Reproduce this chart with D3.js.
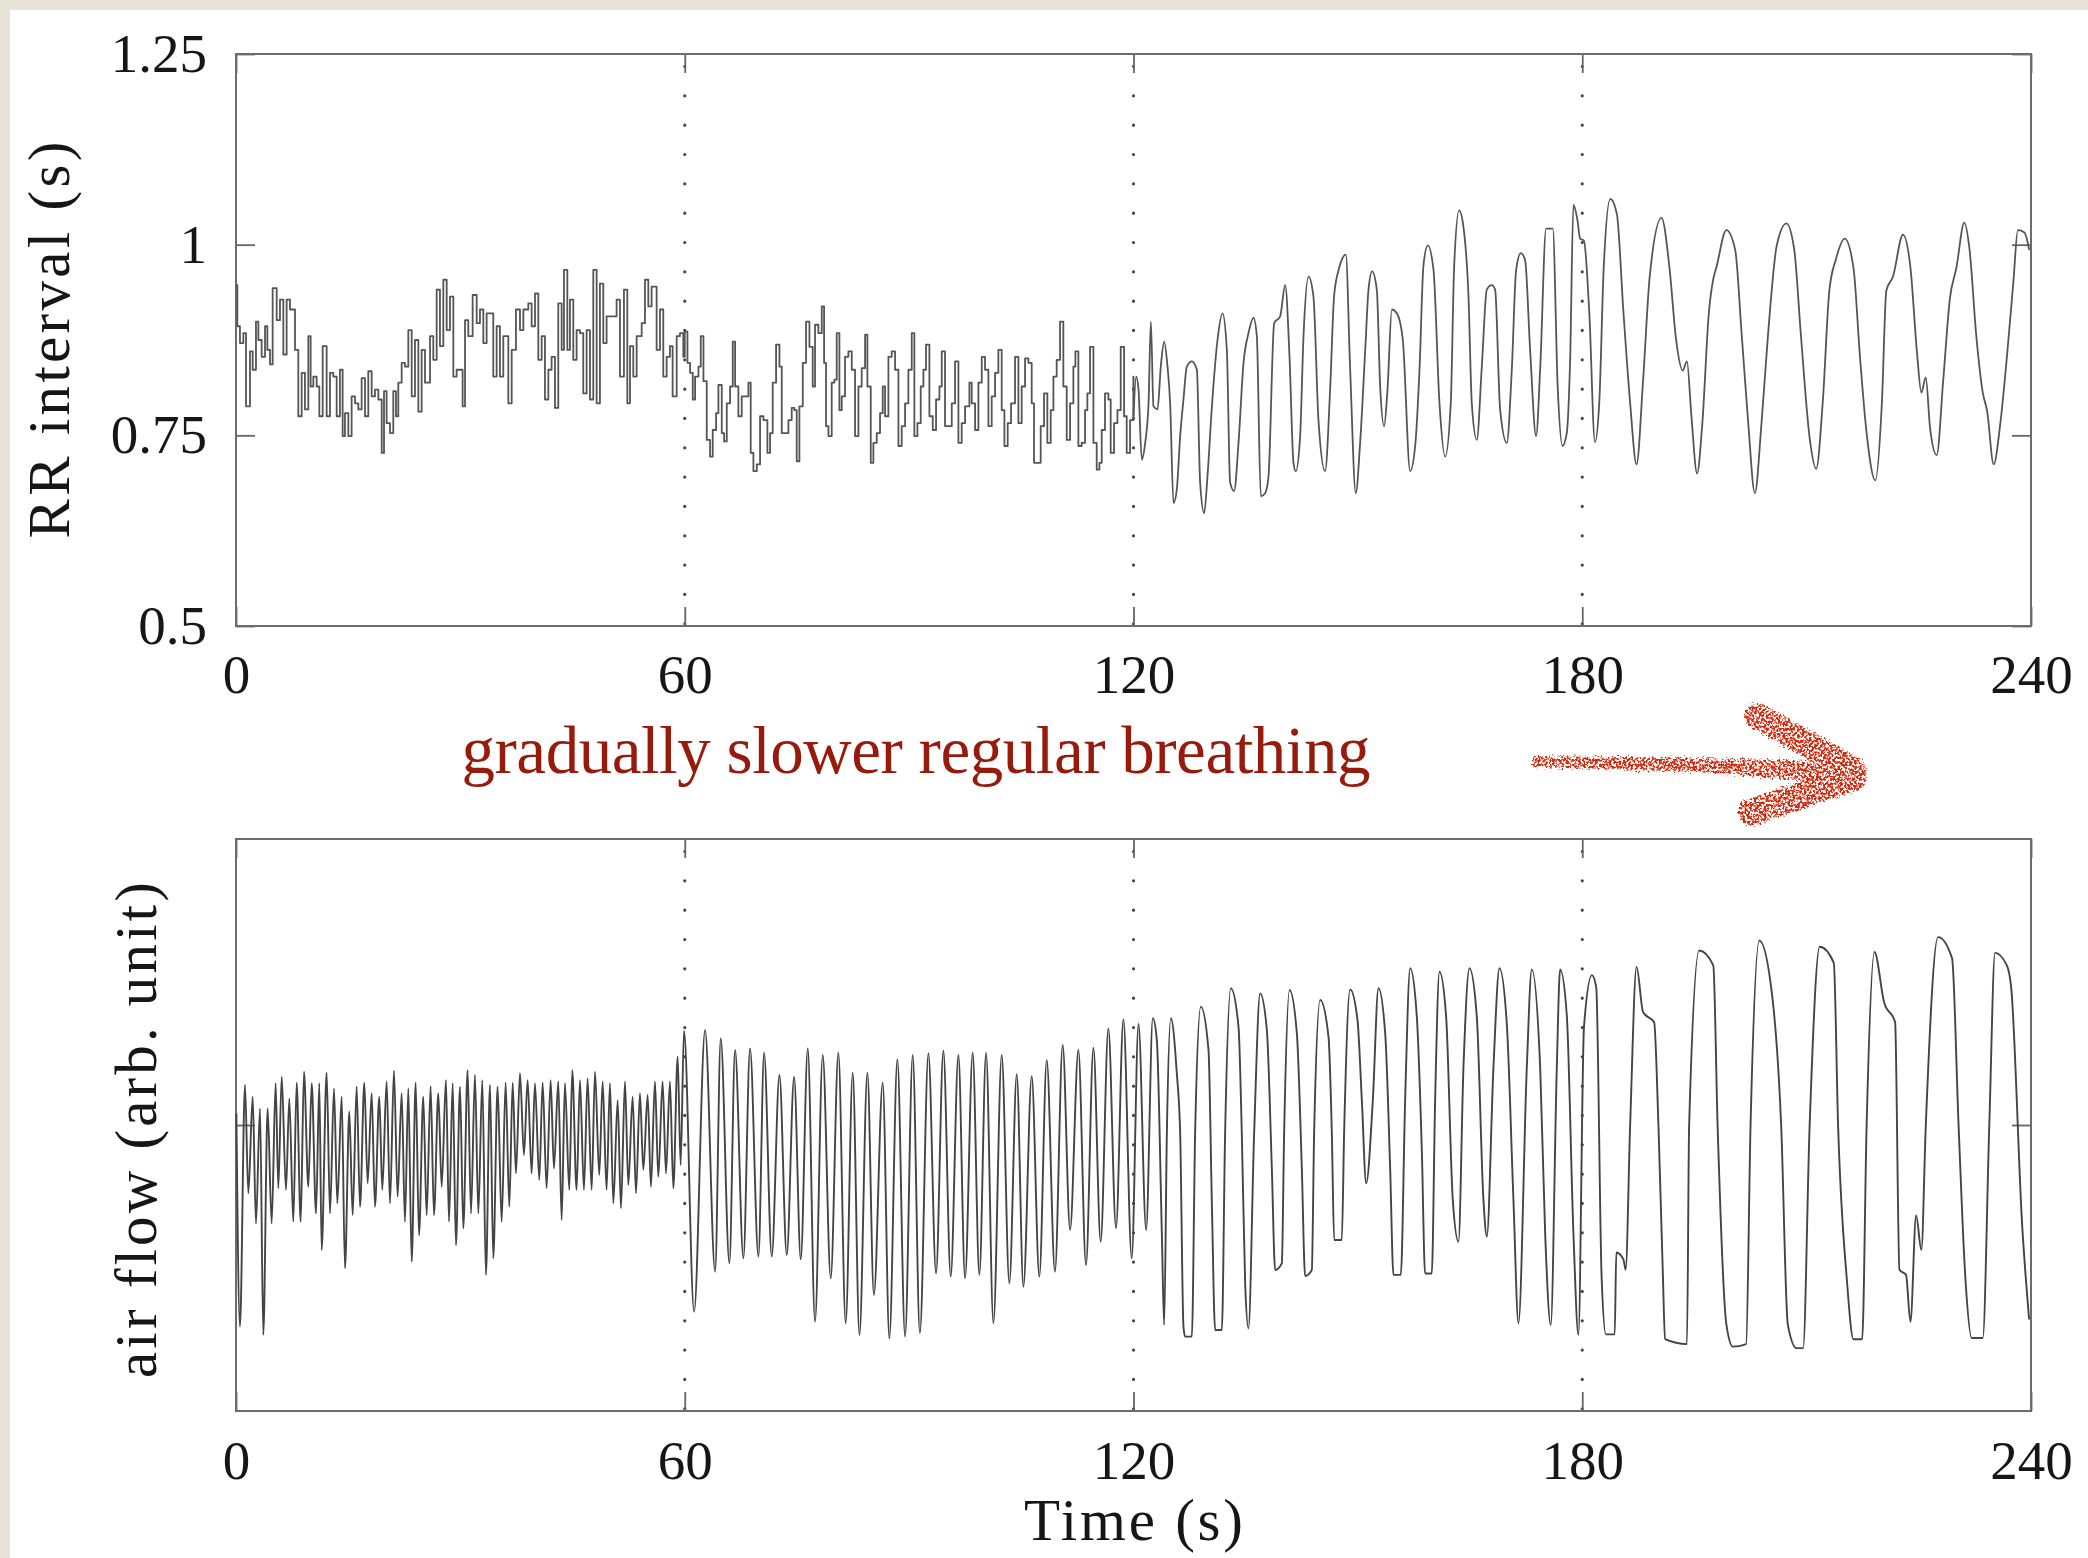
<!DOCTYPE html>
<html>
<head>
<meta charset="utf-8">
<script src="https://cdn.jsdelivr.net/npm/d3@7"></script>
<style>
  html, body { margin: 0; padding: 0; background: #e7e3d7; }
  svg { display: block; }
</style>
</head>
<body>
<svg id="chart"></svg>
<script>
// ---- data ----
// RR interval (s) against time (s), one [t, v] pair per step
const rr0to60 = [[0.0,0.947],[0.18,0.893],[0.53,0.871],[0.98,0.884],[1.34,0.788],[1.69,0.788],[1.87,0.860],[2.23,0.836],[2.67,0.899],[2.99,0.875],[3.43,0.853],[3.88,0.893],[4.19,0.862],[4.55,0.843],[4.90,0.943],[5.44,0.901],[5.88,0.928],[6.33,0.856],[6.77,0.928],[7.22,0.915],[7.89,0.862],[8.33,0.775],[8.78,0.832],[9.22,0.784],[9.67,0.880],[9.98,0.814],[10.34,0.827],[10.78,0.814],[11.14,0.775],[11.59,0.867],[12.12,0.775],[12.57,0.832],[13.01,0.827],[13.46,0.775],[13.90,0.836],[14.26,0.749],[14.57,0.779],[15.02,0.749],[15.46,0.801],[15.91,0.792],[16.36,0.784],[16.80,0.825],[17.25,0.775],[17.69,0.834],[18.14,0.801],[18.58,0.810],[19.03,0.797],[19.48,0.727],[19.79,0.808],[20.14,0.766],[20.59,0.753],[21.03,0.808],[21.39,0.775],[21.70,0.819],[22.15,0.845],[22.59,0.840],[23.04,0.888],[23.49,0.801],[23.93,0.875],[24.38,0.781],[24.82,0.862],[25.27,0.819],[25.94,0.880],[26.38,0.849],[26.83,0.941],[27.27,0.867],[27.72,0.954],[28.17,0.888],[28.61,0.932],[29.06,0.827],[29.50,0.836],[30.30,0.788],[30.62,0.901],[31.06,0.880],[31.64,0.934],[32.18,0.897],[32.62,0.915],[33.07,0.871],[33.51,0.910],[33.96,0.910],[34.40,0.827],[34.85,0.893],[35.29,0.827],[35.74,0.880],[36.41,0.792],[36.86,0.862],[37.43,0.915],[37.97,0.888],[38.42,0.915],[39.08,0.923],[39.53,0.893],[39.98,0.936],[40.42,0.849],[40.87,0.880],[41.31,0.797],[41.76,0.836],[42.20,0.853],[42.65,0.786],[43.09,0.923],[43.54,0.862],[43.85,0.967],[44.30,0.862],[44.65,0.928],[45.10,0.849],[45.54,0.888],[45.99,0.884],[46.43,0.805],[46.88,0.888],[47.33,0.797],[47.77,0.967],[48.22,0.792],[48.66,0.949],[49.11,0.871],[49.55,0.906],[50.22,0.906],[50.89,0.928],[51.34,0.827],[51.87,0.941],[52.32,0.792],[52.68,0.867],[53.12,0.827],[53.57,0.880],[54.24,0.897],[54.68,0.954],[55.13,0.919],[55.57,0.945],[56.24,0.862],[56.69,0.915],[57.13,0.827],[57.58,0.853],[58.02,0.867],[58.38,0.801],[58.92,0.880],[59.36,0.884],[59.81,0.853]]

const rr60to120 = [[60.00,0.886],[60.36,0.845],[60.71,0.832],[61.07,0.797],[61.38,0.827],[61.83,0.840],[62.14,0.880],[62.50,0.821],[62.94,0.744],[63.39,0.722],[63.74,0.757],[64.19,0.779],[64.50,0.816],[64.95,0.753],[65.26,0.742],[65.62,0.792],[66.06,0.814],[66.42,0.873],[66.73,0.814],[67.17,0.775],[67.62,0.801],[68.07,0.801],[68.51,0.819],[68.82,0.727],[69.18,0.703],[69.63,0.712],[70.07,0.775],[70.52,0.770],[71.05,0.727],[71.41,0.753],[71.76,0.819],[72.21,0.869],[72.66,0.840],[72.97,0.753],[73.41,0.753],[73.86,0.770],[74.30,0.786],[74.66,0.783],[74.97,0.716],[75.33,0.788],[75.78,0.845],[76.22,0.899],[76.67,0.866],[77.11,0.814],[77.42,0.895],[77.87,0.884],[78.32,0.919],[78.63,0.845],[78.89,0.762],[79.21,0.749],[79.65,0.819],[80.01,0.823],[80.32,0.884],[80.68,0.783],[80.99,0.801],[81.43,0.853],[81.88,0.860],[82.33,0.836],[82.77,0.749],[83.22,0.814],[83.66,0.838],[84.11,0.882],[84.42,0.814],[84.87,0.714],[85.22,0.740],[85.67,0.753],[86.11,0.779],[86.47,0.814],[86.78,0.775],[87.23,0.853],[87.67,0.860],[88.12,0.836],[88.57,0.736],[89.01,0.762],[89.46,0.792],[89.90,0.836],[90.35,0.884],[90.70,0.749],[91.11,0.766],[91.55,0.814],[91.91,0.836],[92.26,0.869],[92.71,0.775],[93.16,0.757],[93.60,0.797],[94.05,0.814],[94.36,0.860],[94.80,0.762],[95.25,0.762],[95.70,0.792],[96.14,0.847],[96.59,0.740],[97.03,0.766],[97.48,0.788],[98.06,0.819],[98.37,0.792],[98.82,0.757],[99.26,0.819],[99.71,0.853],[100.15,0.836],[100.60,0.762],[101.04,0.801],[101.49,0.832],[101.93,0.862],[102.38,0.783],[102.74,0.736],[103.18,0.766],[103.63,0.792],[104.16,0.853],[104.61,0.766],[105.05,0.814],[105.50,0.851],[105.95,0.845],[106.39,0.792],[106.70,0.714],[107.15,0.714],[107.59,0.762],[108.04,0.805],[108.48,0.740],[108.93,0.783],[109.29,0.827],[109.73,0.849],[110.18,0.899],[110.62,0.814],[111.07,0.744],[111.52,0.792],[111.96,0.840],[112.23,0.860],[112.63,0.736],[113.07,0.740],[113.52,0.783],[113.83,0.805],[114.19,0.866],[114.64,0.740],[115.08,0.705],[115.44,0.714],[115.75,0.757],[116.19,0.805],[116.64,0.797],[116.95,0.727],[117.40,0.766],[117.85,0.783],[118.29,0.866],[118.74,0.775],[119.09,0.727],[119.54,0.770],[119.98,0.827]]

const rr120to180 = [[120.00,0.775],[120.36,0.827],[120.67,0.810],[121.11,0.718],[121.56,0.740],[122.01,0.792],[122.32,0.899],[122.67,0.788],[123.21,0.784],[123.65,0.840],[124.10,0.873],[124.55,0.840],[124.90,0.792],[125.35,0.661],[125.79,0.679],[126.24,0.749],[126.68,0.797],[127.13,0.840],[127.80,0.847],[128.47,0.836],[128.91,0.688],[129.45,0.648],[129.89,0.696],[130.47,0.786],[131.23,0.875],[131.90,0.910],[132.48,0.862],[132.92,0.688],[133.46,0.677],[134.04,0.740],[134.71,0.845],[135.37,0.884],[136.04,0.904],[136.49,0.880],[137.02,0.670],[137.60,0.674],[138.05,0.696],[138.81,0.897],[139.61,0.906],[140.28,0.947],[140.86,0.853],[141.39,0.714],[141.70,0.703],[142.28,0.749],[142.73,0.880],[143.40,0.958],[144.06,0.932],[144.73,0.770],[145.62,0.703],[146.29,0.810],[146.83,0.934],[147.54,0.971],[148.39,0.987],[148.97,0.836],[149.72,0.674],[150.30,0.740],[151.02,0.869],[151.42,0.941],[151.91,0.965],[152.53,0.941],[152.98,0.814],[153.51,0.762],[153.96,0.810],[154.54,0.915],[155.21,0.910],[156.01,0.875],[156.99,0.703],[157.66,0.736],[158.24,0.836],[158.77,0.973],[159.35,0.999],[160.11,0.967],[160.91,0.792],[161.67,0.722],[162.42,0.792],[162.87,0.971],[163.54,1.045],[164.12,1.023],[164.79,0.932],[165.23,0.792],[165.90,0.744],[166.57,0.840],[167.24,0.941],[167.91,0.947],[168.35,0.941],[169.02,0.784],[169.91,0.740],[170.58,0.836],[171.16,0.967],[171.78,0.989],[172.36,0.980],[173.03,0.862],[173.83,0.749],[174.37,0.836],[175.17,1.021],[176.06,1.021],[176.73,0.810],[177.35,0.736],[177.93,0.753],[178.38,0.849],[178.82,1.052],[179.36,1.032],[179.71,1.008]]

const rr180to240 = [[180.23,1.005],[180.94,0.911],[181.70,0.741],[182.28,0.794],[182.87,0.970],[183.75,1.060],[184.63,1.040],[185.51,0.911],[186.39,0.794],[187.26,0.712],[188.14,0.823],[189.02,0.958],[190.60,1.035],[191.66,0.970],[192.54,0.876],[193.42,0.835],[194.00,0.847],[194.59,0.776],[195.35,0.700],[196.05,0.765],[196.93,0.911],[197.52,0.955],[197.93,0.970],[199.27,1.019],[200.45,0.993],[201.32,0.882],[202.20,0.765],[203.08,0.674],[203.96,0.765],[204.84,0.882],[206.01,0.999],[207.30,1.028],[208.35,0.993],[209.23,0.882],[210.40,0.747],[211.28,0.706],[212.16,0.794],[213.04,0.940],[213.92,0.981],[215.09,1.008],[216.26,0.970],[217.14,0.852],[218.02,0.753],[219.19,0.691],[220.07,0.794],[220.66,0.940],[221.54,0.958],[222.88,1.013],[223.88,0.970],[224.76,0.858],[225.34,0.806],[225.93,0.826],[226.51,0.759],[227.39,0.724],[228.27,0.823],[229.15,0.929],[230.03,0.970],[231.08,1.029],[231.79,0.993],[232.67,0.882],[233.55,0.806],[234.13,0.782],[235.01,0.712],[235.89,0.765],[236.77,0.852],[237.65,0.952],[238.24,1.019],[239.12,1.016],[239.77,0.993]]

// air flow (arbitrary unit), [t, v] at turning points and shoulders
const flow0to60 = [[0.05,0.04],[0.53,-0.705],[1.20,0.140],[1.65,-0.239],[2.23,0.099],[2.67,-0.344],[3.21,0.058],[3.65,-0.734],[4.23,0.058],[4.77,-0.344],[5.30,0.146],[5.66,-0.221],[6.11,0.169],[6.68,-0.227],[7.13,0.093],[7.66,-0.338],[8.11,0.148],[8.65,-0.338],[9.09,0.186],[9.67,-0.216],[10.12,0.146],[10.70,-0.309],[11.14,0.146],[11.45,-0.437],[12.12,0.183],[12.57,-0.309],[13.10,0.128],[13.55,-0.274],[14.13,0.099],[14.57,-0.501],[15.15,0.047],[15.60,-0.315],[16.13,0.134],[16.58,-0.286],[17.16,0.148],[17.60,-0.204],[18.14,0.111],[18.58,-0.286],[19.16,0.099],[19.56,-0.227],[20.14,0.152],[20.59,-0.274],[21.12,0.190],[21.61,-0.251],[22.15,0.111],[22.59,-0.338],[23.04,0.128],[23.49,-0.478],[24.02,0.148],[24.47,-0.385],[25.04,0.099],[25.49,-0.315],[26.02,0.136],[26.47,-0.315],[27.05,0.111],[27.50,-0.216],[28.07,0.157],[28.48,-0.338],[28.97,0.146],[29.41,-0.420],[29.95,0.134],[30.39,-0.361],[30.97,0.192],[31.42,-0.309],[31.95,0.175],[32.40,-0.309],[32.93,0.157],[33.42,-0.524],[33.96,0.140],[34.40,-0.466],[34.98,0.134],[35.52,-0.338],[36.05,0.148],[36.54,-0.286],[36.99,0.148],[37.43,-0.169],[37.97,0.181],[38.50,-0.105],[38.99,0.157],[39.53,-0.169],[39.97,0.146],[40.55,-0.192],[41.00,0.148],[41.53,-0.221],[42.07,0.157],[42.51,-0.152],[43.09,0.152],[43.54,-0.332],[43.98,0.146],[44.56,-0.227],[44.96,0.192],[45.54,-0.227],[45.99,0.157],[46.52,-0.227],[47.01,0.163],[47.55,-0.227],[48.00,0.186],[48.57,-0.175],[49.02,0.152],[49.55,-0.227],[50.00,0.146],[50.45,-0.274],[51.03,0.087],[51.47,-0.291],[52.01,0.152],[52.45,-0.210],[53.03,0.099],[53.48,-0.239],[54.01,0.111],[54.46,-0.157],[55.04,0.105],[55.48,-0.216],[56.02,0.152],[56.46,-0.181],[57.04,0.152],[57.49,-0.169],[58.02,0.152],[58.47,-0.221],[59.05,0.239],[59.45,-0.140],[59.90,0.330]]

const flow60to120 = [[61.25,-0.653],[62.72,0.332],[64.06,-0.513],[64.81,0.303],[65.97,-0.484],[66.73,0.262],[67.84,-0.466],[68.73,0.268],[69.85,-0.460],[70.61,0.253],[71.63,-0.460],[72.66,0.175],[73.64,-0.455],[74.62,0.169],[75.51,-0.470],[76.45,0.268],[77.42,-0.688],[78.45,0.245],[79.52,-0.536],[80.54,0.253],[81.52,-0.693],[82.46,0.183],[83.36,-0.734],[84.42,0.183],[85.29,-0.594],[86.47,0.148],[87.36,-0.746],[88.43,0.230],[89.46,-0.740],[90.48,0.245],[91.44,-0.728],[92.58,0.251],[93.60,-0.519],[94.58,0.260],[95.56,-0.530],[96.59,0.245],[97.48,-0.536],[98.50,0.253],[99.39,-0.524],[100.29,0.253],[101.27,-0.693],[102.38,0.245],[103.40,-0.554],[104.39,0.178],[105.28,-0.565],[106.39,0.171],[107.41,-0.530],[108.40,0.227],[109.50,-0.513],[110.53,0.280],[111.52,-0.367],[112.63,0.262],[113.65,-0.490],[114.64,0.270],[115.61,-0.408],[116.64,0.338],[117.66,-0.361],[118.65,0.369],[119.76,-0.466]]

const flow120to180 = [[120.67,0.353],[121.69,-0.367],[122.58,0.373],[123.12,0.297],[123.79,-0.379],[124.10,-0.699],[124.46,-0.029],[124.99,0.373],[125.79,0.181],[126.24,-0.029],[126.68,-0.705],[126.91,-0.740],[127.80,-0.740],[128.24,-0.029],[129.00,0.414],[130.03,0.262],[130.47,-0.262],[130.92,-0.717],[131.81,-0.717],[132.25,-0.029],[133.01,0.478],[134.04,0.344],[134.48,-0.029],[134.93,-0.554],[135.37,-0.711],[136.13,-0.029],[136.93,0.460],[137.83,0.332],[138.49,-0.146],[138.94,-0.507],[139.83,-0.484],[140.14,-0.029],[140.86,0.472],[141.84,0.321],[142.50,-0.146],[142.95,-0.528],[143.84,-0.507],[144.15,-0.029],[144.96,0.437],[146.07,0.309],[146.52,-0.029],[146.83,-0.402],[147.85,-0.402],[148.16,-0.029],[148.97,0.474],[149.95,0.367],[150.53,0.087],[151.11,-0.204],[152.00,0.087],[152.75,0.478],[153.65,0.321],[154.31,-0.146],[154.76,-0.524],[155.74,-0.524],[156.32,0.087],[156.99,0.548],[157.88,0.379],[158.55,-0.087],[158.99,-0.519],[159.88,-0.519],[160.33,0.087],[160.91,0.536],[161.80,0.379],[162.69,-0.262],[163.45,-0.408],[164.12,0.204],[164.92,0.548],[165.90,0.379],[166.79,-0.262],[167.24,-0.390],[168.13,0.204],[168.93,0.548],[169.91,0.355],[170.80,-0.262],[171.47,-0.693],[172.59,0.204],[173.25,0.544],[174.37,0.204],[175.04,-0.379],[175.79,-0.699],[176.60,0.204],[177.04,0.544],[177.93,0.385],[178.82,-0.379],[179.49,-0.734]]

const flow180to240 = [[180.23,0.342],[181.29,0.524],[181.87,0.481],[182.58,-0.524],[183.16,-0.732],[184.34,-0.732],[184.55,-0.446],[185.50,-0.470],[185.80,-0.506],[186.40,-0.004],[187.26,0.553],[188.14,0.394],[189.61,0.359],[190.19,-0.004],[190.78,-0.524],[191.07,-0.749],[194.00,-0.766],[194.29,-0.004],[195.64,0.610],[197.52,0.558],[198.10,-0.004],[199.27,-0.697],[200.15,-0.775],[201.91,-0.766],[202.50,-0.004],[203.67,0.645],[205.42,0.446],[206.60,-0.004],[207.48,-0.697],[208.65,-0.780],[209.53,-0.780],[210.40,-0.004],[211.75,0.623],[213.63,0.567],[214.21,-0.004],[215.38,-0.541],[216.26,-0.749],[217.43,-0.749],[218.02,-0.004],[219.07,0.605],[220.36,0.429],[221.83,0.359],[222.41,-0.506],[223.29,-0.524],[223.88,-0.688],[224.64,-0.316],[225.34,-0.437],[225.93,-0.004],[227.57,0.657],[229.44,0.584],[230.32,-0.004],[231.20,-0.524],[232.08,-0.745],[233.55,-0.745],[234.42,-0.004],[235.19,0.602],[236.77,0.558],[237.35,0.481],[238.82,-0.351],[239.75,-0.680]]

const timeTicks = [0, 60, 120, 180, 240]
const rrTicks = [0.5, 0.75, 1, 1.25]
const flowTicks = [0]
const dividers = [60, 120, 180]

const rrLabel = "RR interval (s)"
const flowLabel = "air flow (arb. unit)"
const timeLabel = "Time (s)"
const note = "gradually slower regular breathing"

// ---- layout ----
var width = 2088, height = 1558
var left = 236, right = 2031
var top1 = 54, bottom1 = 626
var top2 = 839, bottom2 = 1411
var tick = 19
var serif = "'Liberation Serif', 'Times New Roman', serif"

var svg = d3.select("#chart")
    .attr("width", width)
    .attr("height", height)

var defs = svg.append("defs")
var splat = defs.append("filter")
    .attr("id", "splat")
    .attr("x", "-10%").attr("y", "-40%")
    .attr("width", "120%").attr("height", "180%")
splat.append("feTurbulence")
    .attr("type", "fractalNoise")
    .attr("baseFrequency", 0.42)
    .attr("numOctaves", 2)
    .attr("seed", 7)
    .attr("result", "noise")
splat.append("feDisplacementMap")
    .attr("in", "SourceGraphic")
    .attr("in2", "noise")
    .attr("scale", 9)
    .attr("xChannelSelector", "R")
    .attr("yChannelSelector", "G")
    .attr("result", "rough")
splat.append("feColorMatrix")
    .attr("in", "noise")
    .attr("type", "matrix")
    .attr("values", "0 0 0 0 0  0 0 0 0 0  0 0 0 0 0  7 0 0 0 -2.9")
    .attr("result", "mask")
splat.append("feComposite")
    .attr("in", "rough")
    .attr("in2", "mask")
    .attr("operator", "in")

// paper: beige edge, white sheet
svg.append("rect")
    .attr("width", width).attr("height", height)
    .attr("fill", "#e7e3d7")
svg.append("rect")
    .attr("x", 10).attr("y", 10)
    .attr("width", width - 10).attr("height", height - 10)
    .attr("fill", "#ffffff")

var x = d3.scaleLinear()
    .domain([0, 240])
    .range([left, right])

var yRR = d3.scaleLinear()
    .domain([0.5, 1.25])
    .range([bottom1, top1])

var yFlow = d3.scaleLinear()
    .domain([-1, 1])
    .range([bottom2, top2])

function panel(y, yTicks, showYLabels, bottom, top, labelPad){

    var g = svg.append("g")

    // dotted dividers
    g.selectAll(".divider")
        .data(dividers)
        .enter()
        .append("line")
            .attr("x1", d => x(d)).attr("x2", d => x(d))
            .attr("y1", top).attr("y2", bottom)
            .attr("stroke", "#444")
            .attr("stroke-width", 3.2)
            .attr("stroke-linecap", "round")
            .attr("stroke-dasharray", "0 29.33")
            .attr("stroke-dashoffset", -12.5)

    var yLeft = d3.axisLeft(y).tickValues(yTicks).tickSize(-tick).tickPadding(29)
        .tickFormat(showYLabels ? (d => String(d)) : "")
    var yRight = d3.axisRight(y).tickValues(yTicks).tickSize(-tick).tickFormat("")
    var xBottom = d3.axisBottom(x).tickValues(timeTicks).tickSize(-tick).tickPadding(labelPad)
        .tickFormat(d => String(d))
    var xTop = d3.axisTop(x).tickValues(timeTicks).tickSize(-tick).tickFormat("")

    var axes = [
        [yLeft, "translate(" + left + ",0)"],
        [yRight, "translate(" + right + ",0)"],
        [xBottom, "translate(0," + bottom + ")"],
        [xTop, "translate(0," + top + ")"]
    ]

    axes.forEach(function(a){
        var ag = g.append("g")
            .attr("transform", a[1])
            .call(a[0])
        ag.select(".domain").remove()
        ag.selectAll(".tick line")
            .attr("stroke", "#666")
            .attr("stroke-width", 1.8)
        ag.selectAll("text")
            .attr("font-family", serif)
            .attr("font-size", 55)
            .attr("fill", "#161616")
    })

    g.append("rect")
        .attr("x", left).attr("y", top)
        .attr("width", right - left).attr("height", bottom - top)
        .attr("fill", "none")
        .attr("stroke", "#6c6c6c")
        .attr("stroke-width", 2)

    return g
}

var g1 = panel(yRR, rrTicks, true, bottom1, top1, 28)
var g2 = panel(yFlow, flowTicks, false, bottom2, top2, 29)

// beat-to-beat steps in the noisy first half, smooth swings in the second
var rrStep = d3.line()
    .x(d => x(d[0]))
    .y(d => yRR(d[1]))
    .curve(d3.curveStepAfter)

var rrSmooth = d3.line()
    .x(d => x(d[0]))
    .y(d => yRR(d[1]))
    .curve(d3.curveMonotoneX)

var flowLine = d3.line()
    .x(d => x(d[0]))
    .y(d => yFlow(d[1]))
    .curve(d3.curveMonotoneX)

var rrFirst = rr0to60.concat(rr60to120, [rr120to180[0]])
var rrSecond = rr120to180.concat(rr180to240)
var flowSeries = flow0to60.concat(flow60to120, flow120to180, flow180to240)

g1.append("path")
    .datum(rrFirst)
    .attr("d", rrStep)
    .attr("fill", "none")
    .attr("stroke", "#555")
    .attr("stroke-width", 1.8)
    .attr("stroke-linejoin", "round")

g1.append("path")
    .datum(rrSecond)
    .attr("d", rrSmooth)
    .attr("fill", "none")
    .attr("stroke", "#555")
    .attr("stroke-width", 1.8)
    .attr("stroke-linejoin", "round")

g2.append("path")
    .datum(flowSeries)
    .attr("d", flowLine)
    .attr("fill", "none")
    .attr("stroke", "#444")
    .attr("stroke-width", 1.9)
    .attr("stroke-linejoin", "round")

// axis titles
svg.append("text")
    .attr("transform", "translate(69," + (top1 + bottom1) / 2 + ") rotate(-90)")
    .attr("text-anchor", "middle")
    .attr("font-family", serif)
    .attr("font-size", 59)
    .attr("textLength", 397)
    .attr("fill", "#161616")
    .text(rrLabel)

svg.append("text")
    .attr("transform", "translate(156," + ((top2 + bottom2) / 2 + 5) + ") rotate(-90)")
    .attr("text-anchor", "middle")
    .attr("font-family", serif)
    .attr("font-size", 59)
    .attr("textLength", 496)
    .attr("fill", "#161616")
    .text(flowLabel)

svg.append("text")
    .attr("x", (left + right) / 2)
    .attr("y", 1540)
    .attr("text-anchor", "middle")
    .attr("font-family", serif)
    .attr("font-size", 59)
    .attr("textLength", 219)
    .attr("fill", "#161616")
    .text(timeLabel)

// red annotation and brush arrow
svg.append("text")
    .attr("x", 916)
    .attr("y", 773)
    .attr("text-anchor", "middle")
    .attr("font-family", serif)
    .attr("font-size", 67)
    .attr("textLength", 909)
    .attr("fill", "#961b0c")
    .text(note)

var arrow = svg.append("g")
    .attr("filter", "url(#splat)")
    .attr("fill", "#d3290b")
    .attr("stroke", "#d3290b")
    .attr("stroke-linecap", "round")
arrow.append("path")
    .attr("d", "M1534,757 L1700,759 L1850,763 L1850,783 L1700,771 L1534,766 Z")
    .attr("stroke-width", 2)
arrow.append("path")
    .attr("d", "M1758,716 L1854,770")
    .attr("fill", "none")
    .attr("stroke-width", 26)
arrow.append("path")
    .attr("d", "M1752,812 L1854,778")
    .attr("fill", "none")
    .attr("stroke-width", 26)
</script>
</body>
</html>
